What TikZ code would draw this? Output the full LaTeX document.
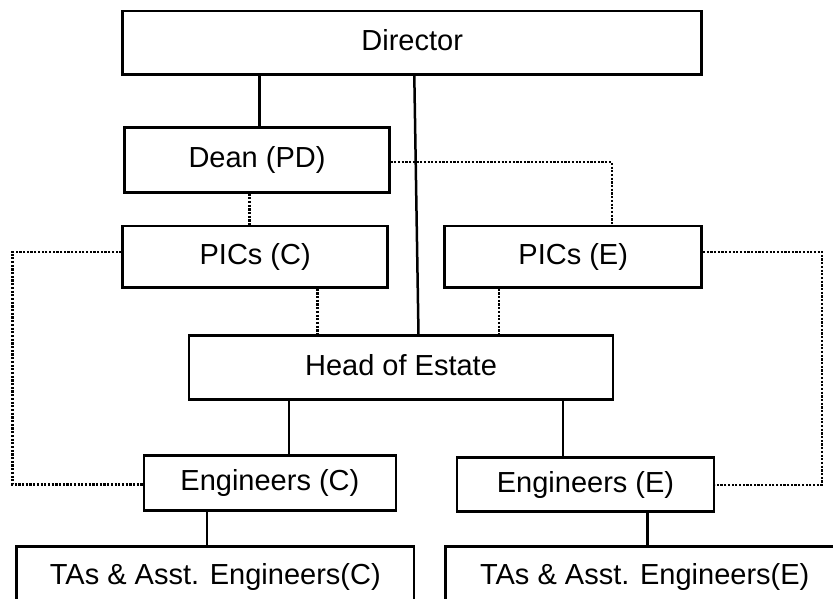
\documentclass[tikz,border=0pt]{standalone}
\usepackage{fontspec}
\setmainfont{Liberation Sans}
\begin{document}
\begin{tikzpicture}[x=1pt,y=-1pt,
  box/.style={draw,line width=2.5pt,inner sep=0pt,fill=white,
    font=\fontsize{29}{34}\selectfont,text height=21pt,text depth=6pt},
  solidline/.style={line width=2.5pt},
  dotline/.style={line width=2.4pt,dash pattern=on 2.2pt off 1.5pt}]
\useasboundingbox (0,0) rectangle (833,599);
\clip (0,0) rectangle (833,599);
\fill[white] (0,0) rectangle (833,599);
% nodes
\node[box,minimum width=579pt,minimum height=63.3pt] (dir) at (412.2,42.7) {Director};
\node[box,minimum width=264.6pt,minimum height=64.6pt] (dean) at (257,160) {Dean (PD)};
\node[box,minimum width=265pt,minimum height=61.3pt] (picc) at (255.2,256.7) {PICs (C)};
\node[box,minimum width=257pt,minimum height=61.3pt] (pice) at (573.2,256.7) {PICs (E)};
\node[box,minimum width=424pt,minimum height=63.6pt] (head) at (401,367.5) {Head of Estate};
\node[box,minimum width=251.7pt,minimum height=55.4pt] (engc) at (269.9,483) {Engineers (C)};
\node[box,minimum width=257pt,minimum height=54pt] (enge) at (585.5,484.7) {Engineers (E)};
\node[box,minimum width=397.3pt,minimum height=61.4pt] (tasc) at (215.3,577.4) {TAs \& Asst. Engineers(C)};
\node[box,minimum width=398.7pt,minimum height=61.4pt] (tase) at (644.7,577.4) {TAs \& Asst. Engineers(E)};
% helper coordinates
\coordinate (lx) at (12.3,0);
\coordinate (rx) at (822,0);
\coordinate (lc1) at ([yshift=5pt]picc.west);
\coordinate (lc2) at ([yshift=-1.3pt]engc.west);
\coordinate (lr1) at ([yshift=5pt]pice.east);
\coordinate (lr2) at (enge.east);
% solid connectors
\draw[solidline] ([xshift=2.3pt]dean.north |- dir.south) -- ([xshift=2.3pt]dean.north);
\draw[solidline] ([xshift=2.1pt]dir.south) -- ([xshift=17.5pt]head.north);
\draw[solidline] ([xshift=19.1pt]engc.north |- head.south) -- ([xshift=19.1pt]engc.north);
\draw[solidline] ([xshift=-22.5pt]enge.north |- head.south) -- ([xshift=-22.5pt]enge.north);
\draw[solidline] ([xshift=-8.3pt]tasc.north |- engc.south) -- ([xshift=-8.3pt]tasc.north);
\draw[solidline] ([xshift=61.8pt]enge.south) -- ([xshift=61.8pt]enge.south |- tase.north);
% dotted connectors
\draw[dotline] ([xshift=-5.9pt]picc.north |- dean.south) -- ([xshift=-5.9pt]picc.north);
\draw[dotline] ([yshift=-2.3pt]dean.east) -| ([xshift=38.8pt]pice.north);
\draw[dotline] ([xshift=62.1pt]picc.south) -- ([xshift=62.1pt]picc.south |- head.north);
\draw[dotline] ([xshift=-74.2pt]pice.south) -- ([xshift=-74.2pt]pice.south |- head.north);
\draw[dotline] (lc1) -| (lx |- lc2) -- (lc2);
\draw[dotline] (lr1) -| (rx |- lr2) -- (lr2);
\end{tikzpicture}
\end{document}
